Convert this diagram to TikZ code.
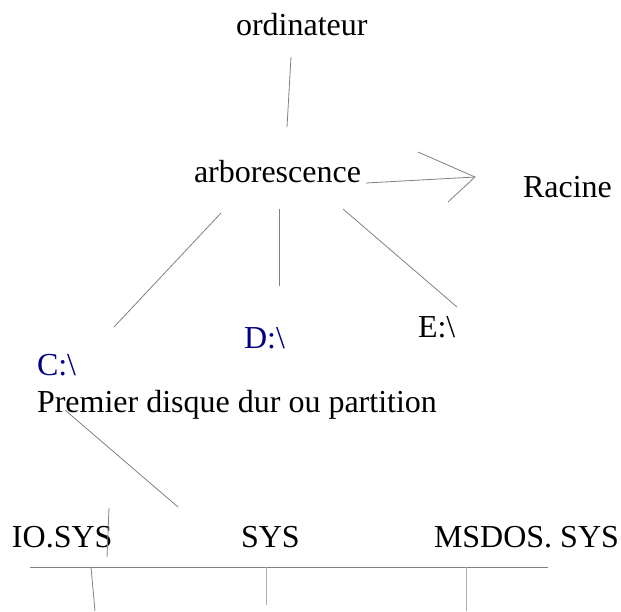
\documentclass[tikz,border=0pt]{standalone}
\usepackage{fontspec}
\setmainfont{Liberation Serif}
\definecolor{navy}{RGB}{0,0,128}
\definecolor{linegray}{RGB}{128,128,128}
\definecolor{lightgray2}{RGB}{175,175,175}
\begin{document}
\begin{tikzpicture}[x=1pt,y=-1pt,
  lbl/.style={anchor=base west,inner sep=0pt,outer sep=0pt,font=\fontsize{32}{37}\selectfont},
  ln/.style={draw=linegray,line width=0.8pt},
  lnl/.style={draw=lightgray2,line width=0.8pt}]
\useasboundingbox (0,0) rectangle (621,611);
% labels
\node[lbl] (ord) at (236,35) {ordinateur};
\node[lbl] (arb) at (194,182) {arborescence};
\node[lbl] (rac) at (523,197) {Racine};
\node[lbl,text=navy] (d) at (244,348) {D:\textbackslash};
\node[lbl] (e) at (418,337) {E:\textbackslash};
\node[lbl,text=navy] (c) at (37,375) {C:\textbackslash};
\node[lbl] (prem) at (37,412) {Premier disque dur ou partition};
\node[lbl] (io) at (12,547) {IO.SYS};
\node[lbl] (sys) at (241,547) {SYS};
\node[lbl] (msdos) at (434,547) {MSDOS. SYS};
% endpoints
\coordinate (o1) at (291,57);   \coordinate (o2) at (287,127);
\coordinate (r1) at (366,183);  \coordinate (r2) at (475,177);
\coordinate (rb1) at (418,152); \coordinate (rb2) at (448,202);
\coordinate (c1) at (221,213);  \coordinate (c2) at (114,327);
\coordinate (d1) at (279,209);  \coordinate (d2) at (279,286);
\coordinate (e1) at (343,209);  \coordinate (e2) at (457,307);
\coordinate (p1) at (65,410);   \coordinate (p2) at (178,507);
\coordinate (s1) at (109,508);  \coordinate (s2) at (107,557);
\coordinate (h1) at (30,567);   \coordinate (h2) at (548,567);
\coordinate (v1a) at (91,567);  \coordinate (v1b) at (95,611);
\coordinate (v2a) at (266,567); \coordinate (v2b) at (266,605);
\coordinate (v3a) at (466,567); \coordinate (v3b) at (466,611);
% connectors
\draw[ln] (o1) -- (o2);
\draw[ln] (r1) -- (r2);
\draw[ln] (rb1) -- (r2) -- (rb2);
\draw[ln] (c1) -- (c2);
\draw[ln] (d1) -- (d2);
\draw[ln] (e1) -- (e2);
\draw[ln] (p1) -- (p2);
\draw[ln] (s1) -- (s2);
\draw[ln] (h1) -- (h2);
\draw[ln] (v1a) -- (v1b);
\draw[lnl] (v2a) -- (v2b);
\draw[lnl] (v3a) -- (v3b);
\end{tikzpicture}
\end{document}
